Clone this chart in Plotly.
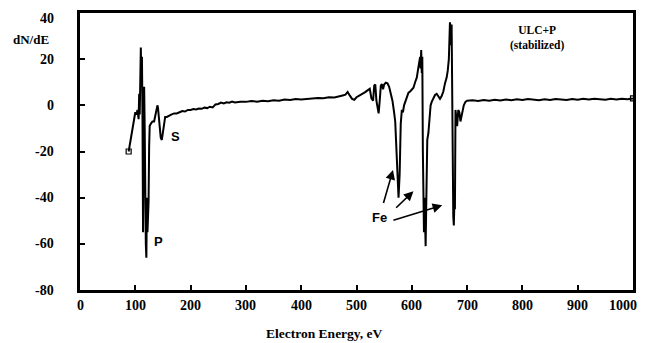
import plotly.graph_objects as go

# Electron energy (eV) and derivative Auger signal dN/dE
energy = [88, 90, 93, 96, 98, 100, 102, 104, 106, 107, 108, 109, 110, 111, 112, 113, 114, 115, 116, 117,
          118, 119, 120, 121, 122, 123, 124, 125, 126, 128, 131, 134, 136, 138, 140, 141, 142, 144, 146, 148,
          150, 152, 154, 157, 160, 165, 170, 175, 180, 185, 190, 195, 200, 205, 210, 215, 220, 225, 230, 235,
          240, 245, 250, 255, 260, 265, 270, 275, 280, 290, 300, 310, 320, 330, 340, 350, 360, 370, 380, 390,
          400, 410, 420, 430, 440, 450, 460, 470, 475, 480, 484, 488, 492, 496, 500, 505, 510, 515, 520, 524,
          527, 530, 532, 534, 536, 538, 540, 542, 544, 546, 548, 550, 553, 556, 559, 562, 565, 568, 570, 572,
          574, 576, 578, 580, 582, 584, 586, 588, 591, 594, 597, 600, 603, 606, 609, 611, 613, 615, 616, 617,
          618, 619, 620, 621, 622, 623, 624, 625, 626, 627, 628, 630, 632, 634, 636, 639, 642, 645, 648, 651,
          654, 657, 660, 663, 665, 666, 667, 668, 669, 670, 671, 672, 673, 674, 675, 676, 677, 678, 679, 680,
          682, 684, 686, 688, 690, 692, 694, 697, 700, 710, 720, 730, 740, 750, 760, 770, 780, 790, 800, 810,
          820, 830, 840, 850, 860, 870, 880, 890, 900, 910, 920, 930, 940, 950, 960, 970, 980, 990, 1000]
dnde = [-20, -17, -12, -7, -4, -3, -4, -2, -6, 5, -4, 20, 25, 10, 21, -5, -55, -20, 8, -10,
        -50, -60, -66, -40, -55, -45, -42, -18, -9, -8, -7, -7, -5, -2, 0, -1, -4, -10, -14, -15,
        -12, -7, -5, -5, -4.5, -4, -3.5, -3.5, -3, -2.5, -2.7, -2, -2, -1.6, -1.8, -1.4, -1.5, -1, -1.2, -0.6,
        -0.9, 0.4, 0.6, 1.2, 0.8, 1.3, 1.1, 1.6, 1.2, 1.6, 1.5, 1.9, 1.6, 2.0, 1.8, 2.2, 2.0, 2.5, 2.3, 2.7,
        2.5, 2.8, 2.9, 3.2, 3.1, 3.5, 3.4, 3.8, 4.3, 4.6, 5.8, 4.2, 2.8, 2.4, 3.5, 4.2, 4.8, 5.6, 6.5, 7.2,
        3.0, 2.0, 8.5, 9.0, 2.0, -2.0, -3.5, 2.0, 8.5, 9.2, 7.0, 9.0, 9.8, 9.5, 8.0, 5.0, 2.0, -3.0, -7.0, -18,
        -32, -40, -30, -8, -2, -3, 0, 1.5, 3, 5.5, 6, 6.8, 7.6, 10, 12, 15, 18, 21, 16, 24,
        14, 21, -20, -45, -55, -40, -58, -61, -45, -25, -15, -12, -5, 0, 1.5, 3, 4.5, 5, 4, 2.8,
        4, 6, 9.5, 12, 15, 18, 20, 28, 36, 33, 26, 35, -10, -30, -48, -52, -42, -45, -2, -5,
        -9, -2, -3, -7, -4, -1, 0, 1.5, 2.0, 2.2, 1.9, 2.3, 2.0, 2.4, 2.1, 2.5, 2.2, 2.6, 2.3, 2.7,
        2.4, 2.2, 2.6, 2.3, 2.7, 2.5, 2.3, 2.7, 2.4, 2.8, 2.5, 2.9, 2.6, 2.4, 2.8, 2.5, 2.9, 2.6, 3.0]

x_ticks = [0, 100, 200, 300, 400, 500, 600, 700, 800, 900, 1000]
x_ticktext = ["0", "100", "200", "300", "400", "500", "600", "700", "800", "900", "1000"]
y_ticks = [-80, -60, -40, -20, 0, 20, 40]
y_ticktext = ["-80", "-60", "-40", "-20", "0", "20", "40"]

# labels: (text, energy, dN/dE)
peak_labels = [("S", 173, -13.7), ("P", 142, -59)]
fe_label = ("Fe", 542, -48.5)
# arrows: (tail energy, tail value, head energy, head value)
fe_arrows = [(548, -43, 566, -28), (569, -45, 603, -37.2), (564, -50, 655, -43.3)]

serif = "'Liberation Serif', 'Times New Roman', Times, serif"
sans = "'Liberation Sans', Arial, sans-serif"
tick_font = dict(family=serif, size=14, color="black", weight="bold")

fig = go.Figure()
fig.add_trace(go.Scatter(
    x=energy, y=dnde, mode="lines",
    line=dict(color="black", width=2),
    showlegend=False, hoverinfo="skip"))
fig.add_trace(go.Scatter(
    x=[energy[0], energy[-1]], y=[dnde[0], dnde[-1]], mode="markers",
    marker=dict(symbol="square-open", size=5, color="black", line=dict(width=1.2)),
    showlegend=False, hoverinfo="skip"))

for txt, ex, ey in peak_labels:
    fig.add_annotation(x=ex, y=ey, text=txt, showarrow=False, xanchor="center", yanchor="middle",
                       font=dict(family=sans, size=13, color="black", weight="bold"))
fig.add_annotation(x=fe_label[1], y=fe_label[2], text=fe_label[0], showarrow=False,
                   xanchor="center", yanchor="middle",
                   font=dict(family=sans, size=13, color="black", weight="bold"))
for tx, ty, hx, hy in fe_arrows:
    fig.add_annotation(x=hx, y=hy, ax=tx, ay=ty, xref="x", yref="y", axref="x", ayref="y",
                       text="", showarrow=True, arrowhead=2, arrowsize=1.2, arrowwidth=1.6,
                       arrowcolor="black")

# tick labels placed with the axis scales (offsets match the reference's label gaps)
for v, t in zip(y_ticks, y_ticktext):
    fig.add_annotation(x=0, xref="paper", y=v, yref="y", xshift=-24, yshift=(-5 if v == 40 else 0),
                       text=t, showarrow=False, xanchor="right", yanchor="middle", font=tick_font)
for v, t in zip(x_ticks, x_ticktext):
    fig.add_annotation(x=v, xref="x", y=0, yref="paper", yshift=-15, xshift=(-10 if v == 1000 else 0),
                       text=t, showarrow=False, xanchor="center", yanchor="middle", font=tick_font)

fig.add_annotation(x=0.826, y=0.911, xref="paper", yref="paper", text="ULC+P<br>(stabilized)",
                   showarrow=False, align="center", xanchor="center", yanchor="middle",
                   font=dict(family=serif, size=11.5, color="black", weight="bold"))
fig.add_annotation(x=-0.0886, y=0.904, xref="paper", yref="paper", text="dN/dE",
                   showarrow=False, xanchor="center", yanchor="middle",
                   font=dict(family=serif, size=13, color="black", weight="bold"))
fig.add_annotation(x=0.443, y=0, xref="paper", yref="paper", yshift=-43,
                   text="Electron Energy, eV", showarrow=False, xanchor="center", yanchor="middle",
                   font=dict(family=serif, size=13.5, color="black", weight="bold"))

fig.update_xaxes(range=[0, 1000], tickvals=x_ticks, ticks="inside", ticklen=5, tickwidth=1.5,
                 tickcolor="black", showline=True, linewidth=2.5, linecolor="black", mirror=True,
                 showgrid=False, zeroline=False, showticklabels=False)
fig.update_yaxes(range=[-80, 40], tickvals=y_ticks, ticks="inside", ticklen=5,
                 tickwidth=1.5, tickcolor="black", showline=True, linewidth=2.5, linecolor="black",
                 mirror=True, showgrid=False, zeroline=False, showticklabels=False)

# page body has an 8px margin, so the figure is sized/offset to put the plot box where the reference has it
fig.update_layout(width=639, height=335, margin=dict(l=72, r=14, t=2, b=53),
                  paper_bgcolor="white", plot_bgcolor="white")
fig.write_html("out.html")
